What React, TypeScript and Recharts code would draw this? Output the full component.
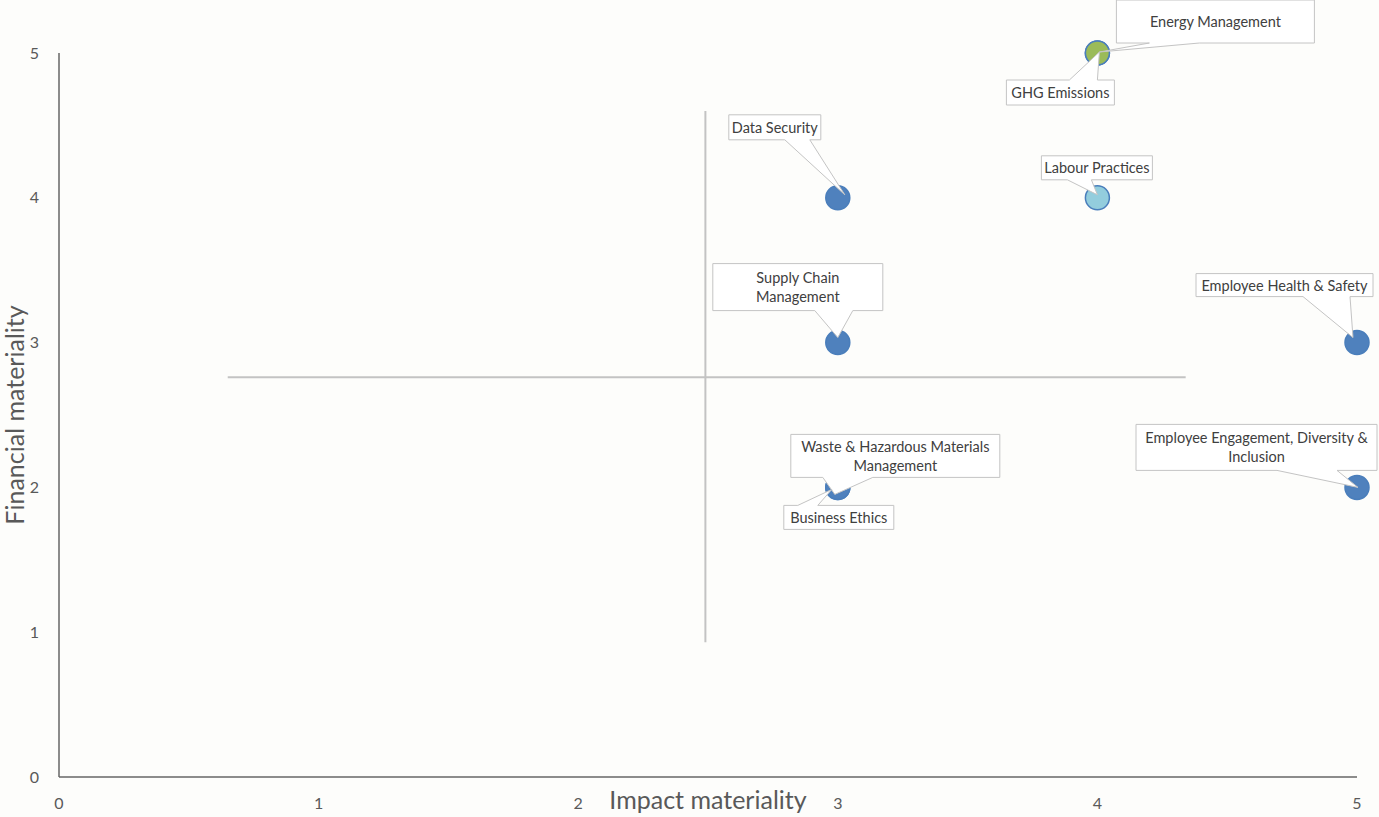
import { ScatterChart, Scatter, XAxis, YAxis, ReferenceLine, Label } from 'recharts';

// topics and their scores
const topics = [
  'Energy Management',
  'GHG Emissions',
  'Data Security',
  'Labour Practices',
  'Supply Chain Management',
  'Employee Health & Safety',
  'Waste & Hazardous Materials Management',
  'Business Ethics',
  'Employee Engagement, Diversity & Inclusion',
];
const impact = [4, 4, 3, 4, 3, 5, 3, 3, 5];
const financial = [5, 5, 4, 4, 3, 3, 2, 2, 2];
const axisTicks = [0, 1, 2, 3, 4, 5];

const data = topics.map((name, i) => ({ name, x: impact[i], y: financial[i] }));

// label text split into lines as in the original callouts
const labelLines: Record<string, string[]> = {
  'Supply Chain Management': ['Supply Chain', 'Management'],
  'Waste & Hazardous Materials Management': ['Waste & Hazardous Materials', 'Management'],
  'Employee Engagement, Diversity & Inclusion': ['Employee Engagement, Diversity &', 'Inclusion'],
};

const fills: Record<string, string> = {
  'Energy Management': '#9bbb59',
  'GHG Emissions': '#9bbb59',
  'Labour Practices': '#93cddd',
};

// callout box placement relative to the point (px)
// [boxDx, boxDy, boxW, boxH, wedgeSide, wedgeA, wedgeB, apexDx, apexDy]
const callouts: Record<string, [number, number, number, number, 'top' | 'bottom', number, number, number, number]> = {
  'Energy Management': [19, -53, 198, 43, 'bottom', 52, 102, 2, -1],
  'GHG Emissions': [-91, 27, 108, 25, 'top', -28, 0, 2, -1],
  'Data Security': [-109, -83, 92, 25, 'bottom', -53, -28, 7, -3],
  'Labour Practices': [-56, -42, 111, 24, 'bottom', -30, -6, 0, -3],
  'Supply Chain Management': [-125, -79, 170, 47, 'bottom', -23, 15, 0, -5],
  'Employee Health & Safety': [-161, -69, 177, 23, 'bottom', -54, -7, -4, -5],
  'Waste & Hazardous Materials Management': [-47, -53, 209, 43, 'bottom', -15, 35, -3, 7],
  'Business Ethics': [-54, 18, 110, 24, 'top', -40, -20, -6, 2],
  'Employee Engagement, Diversity & Inclusion': [-221, -63, 241, 46, 'bottom', -80, -20, 1, 0],
};

const font = "Lato, 'Noto Sans', sans-serif";

const Dot = (props: any) => {
  const { cx, cy, payload } = props;
  const fill = fills[payload.name] || '#4f81bd';
  return <circle cx={cx} cy={cy} r={12} fill={fill} stroke="#4a7ebb" strokeWidth={1.5} />;
};

const Callout = (props: any) => {
  const { cx, cy, payload } = props;
  const c = callouts[payload.name];
  if (!c) return null;
  const [dx, dy, w, h, side, a, b, ax, ay] = c;
  const l = cx + dx;
  const t = cy + dy;
  const r = l + w;
  const bt = t + h;
  const px = cx + ax;
  const py = cy + ay;
  let d = '';
  if (side === 'bottom') {
    d = `M${l},${t} L${r},${t} L${r},${bt} L${cx + b},${bt} L${px},${py} L${cx + a},${bt} L${l},${bt} Z`;
  } else {
    d = `M${l},${t} L${cx + a},${t} L${px},${py} L${cx + b},${t} L${r},${t} L${r},${bt} L${l},${bt} Z`;
  }
  const lines = labelLines[payload.name] || [payload.name];
  const lh = 19;
  const startY = t + h / 2 - ((lines.length - 1) * lh) / 2;
  return (
    <g>
      <path d={d} fill="#ffffff" stroke="#c4c4c4" strokeWidth={1} />
      {lines.map((ln, i) => (
        <text
          key={i}
          x={l + w / 2}
          y={startY + i * lh}
          textAnchor="middle"
          dominantBaseline="central"
          fontSize={14.5}
          fontFamily={font}
          fill="#404040"
        >
          {ln}
        </text>
      ))}
    </g>
  );
};

const tickStyle = { fill: '#595959', fontSize: 16, fontFamily: font };

export default function App() {
  return (
    <div style={{ position: 'absolute', left: 0, top: 0, width: 1379, height: 817, background: '#fdfdfb' }}>
      <ScatterChart width={1379} height={817} margin={{ top: 53, right: 22, bottom: 0, left: 0 }}>
        <XAxis
          type="number"
          dataKey="x"
          domain={[0, 5]}
          ticks={axisTicks}
          height={40}
          tickLine={false}
          tickMargin={15}
          stroke="#666666"
          strokeWidth={1.5}
          tick={tickStyle}
        >
          <Label
            content={(p: any) => {
              const vb = p.viewBox;
              return (
                <text
                  x={vb.x + vb.width / 2}
                  y={vb.y + 22}
                  textAnchor="middle"
                  dominantBaseline="central"
                  fontSize={25}
                  fontFamily={font}
                  fill="#595959"
                >
                  Impact materiality
                </text>
              );
            }}
          />
        </XAxis>
        <YAxis
          type="number"
          dataKey="y"
          domain={[0, 5]}
          ticks={axisTicks}
          width={59}
          tickLine={false}
          tickMargin={14}
          stroke="#666666"
          strokeWidth={1.5}
          tick={tickStyle}
        >
          <Label
            content={(p: any) => {
              const vb = p.viewBox;
              const x = vb.x + 14;
              const y = vb.y + vb.height / 2;
              return (
                <text
                  x={x}
                  y={y}
                  transform={`rotate(-90, ${x}, ${y})`}
                  textAnchor="middle"
                  dominantBaseline="central"
                  fontSize={25}
                  fontFamily={font}
                  fill="#595959"
                >
                  Financial materiality
                </text>
              );
            }}
          />
        </YAxis>
        <ReferenceLine
          segment={[{ x: 2.49, y: 4.6 }, { x: 2.49, y: 0.93 }]}
          stroke="#c3c3c3"
          strokeWidth={2}
        />
        <ReferenceLine
          segment={[{ x: 0.65, y: 2.76 }, { x: 4.34, y: 2.76 }]}
          stroke="#c3c3c3"
          strokeWidth={2}
        />
        <Scatter data={data} shape={Dot} isAnimationActive={false} />
        <Scatter data={data} shape={Callout} isAnimationActive={false} />
      </ScatterChart>
    </div>
  );
}
